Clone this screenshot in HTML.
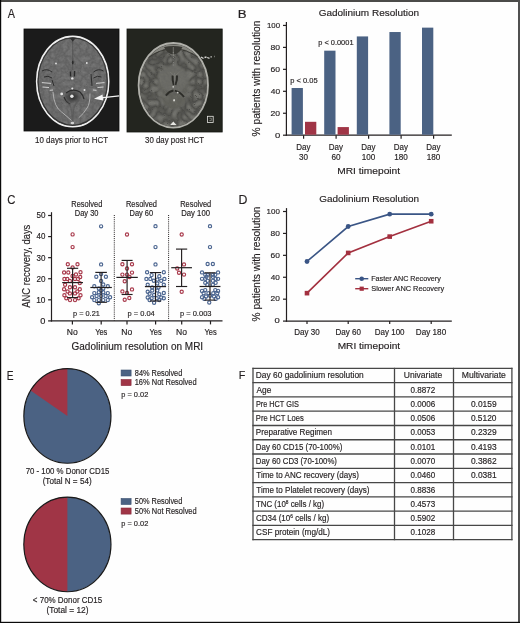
<!DOCTYPE html>
<html><head><meta charset="utf-8"><style>
html,body{margin:0;padding:0;background:#fff;}
svg{display:block;font-family:"Liberation Sans",sans-serif;will-change:transform;}
text{stroke:#231f20;stroke-width:0.16px;}
</style></head><body>
<svg width="520" height="623" viewBox="0 0 520 623">
<rect x="0" y="0" width="520" height="623" fill="#fefefe"/>
<text x="7.80" y="18.10" font-size="12.46" textLength="7.21" lengthAdjust="spacingAndGlyphs" fill="#231f20" >A</text>
<text x="237.88" y="17.70" font-size="10.58" textLength="8.82" lengthAdjust="spacingAndGlyphs" fill="#231f20" >B</text>
<text x="7.19" y="204.00" font-size="12.9" textLength="8.17" lengthAdjust="spacingAndGlyphs" fill="#231f20" >C</text>
<text x="238.59" y="203.80" font-size="12.17" textLength="8.91" lengthAdjust="spacingAndGlyphs" fill="#231f20" >D</text>
<text x="6.64" y="379.50" font-size="13.04" textLength="6.83" lengthAdjust="spacingAndGlyphs" fill="#231f20" >E</text>
<text x="238.67" y="378.80" font-size="11.59" textLength="6.57" lengthAdjust="spacingAndGlyphs" fill="#231f20" >F</text>
<defs>
<filter id="noiseL" x="0" y="0" width="100%" height="100%" color-interpolation-filters="sRGB">
  <feTurbulence type="fractalNoise" baseFrequency="0.5" numOctaves="2" seed="3" result="n"/>
  <feColorMatrix in="n" type="matrix" values="0 0 0 0 0.36  0 0 0 0 0.36  0 0 0 0 0.36  0 0 0 -1.2 0.9" result="g"/>
  <feComposite in="g" in2="SourceGraphic" operator="in"/>
</filter>
<filter id="blur06" color-interpolation-filters="sRGB"><feGaussianBlur stdDeviation="0.6"/></filter>
<filter id="blur1" color-interpolation-filters="sRGB"><feGaussianBlur stdDeviation="1.2"/></filter>
<clipPath id="clipL"><ellipse cx="72.7" cy="81.7" rx="35.2" ry="44.3"/></clipPath>
<clipPath id="clipR"><ellipse cx="173.3" cy="85.5" rx="33.6" ry="41.2"/></clipPath>
<filter id="gyri" x="0" y="0" width="100%" height="100%" color-interpolation-filters="sRGB">
 <feTurbulence type="turbulence" baseFrequency="0.14" numOctaves="1" seed="5" result="n"/>
 <feColorMatrix in="n" type="matrix" values="0 0 0 0 0.24  0 0 0 0 0.24  0 0 0 0 0.225  -1.7 0 0 0 0.72" result="g"/>
 <feComposite in="g" in2="SourceGraphic" operator="in"/>
</filter>
<filter id="gyriL" x="0" y="0" width="100%" height="100%" color-interpolation-filters="sRGB">
 <feTurbulence type="turbulence" baseFrequency="0.16" numOctaves="1" seed="9" result="n"/>
 <feColorMatrix in="n" type="matrix" values="0 0 0 0 0.28  0 0 0 0 0.28  0 0 0 0 0.28  -1.6 0 0 0 0.6" result="g"/>
 <feComposite in="g" in2="SourceGraphic" operator="in"/>
</filter>
<radialGradient id="ringg" cx="0.5" cy="0.5" r="0.5"><stop offset="0.45" stop-color="#fff" stop-opacity="0"/><stop offset="0.72" stop-color="#fff" stop-opacity="1"/><stop offset="1" stop-color="#fff" stop-opacity="1"/></radialGradient>
<mask id="ringm" maskContentUnits="userSpaceOnUse"><ellipse cx="173.3" cy="85.5" rx="33.6" ry="41.2" fill="url(#ringg)"/></mask>
<radialGradient id="darkc" cx="0.5" cy="0.5" r="0.5"><stop offset="0" stop-color="#2a2a2a"/><stop offset="1" stop-color="#2a2a2a" stop-opacity="0"/></radialGradient>
</defs>
<rect x="24" y="29" width="95" height="102" fill="#1b1b1b" stroke="#0c0c0c" stroke-width="0.8"/>
<ellipse cx="72.7" cy="81.5" rx="36.0" ry="45.1" fill="#787878" stroke="#efefef" stroke-width="1.7"/>
<g clip-path="url(#clipL)">
<rect x="36" y="36" width="74" height="92" fill="#6b6b6b" filter="url(#noiseL)" opacity="0.75"/>
<ellipse cx="72.7" cy="81.6" rx="34.9" ry="44.0" fill="none" stroke="#333333" stroke-width="1.9" filter="url(#blur06)"/>
<rect x="36" y="36" width="74" height="92" fill="#6b6b6b" filter="url(#gyriL)" opacity="0.5"/>
<g filter="url(#blur06)">
<path d="M72.7,40 L72.7,70" stroke="#505050" stroke-width="0.8"/>
<path d="M66,37.2 Q71,38 72.7,41.8 Q74.5,38 79.5,37.2 L72.7,36.2 Z" fill="#2e2e2e"/>
<ellipse cx="72.8" cy="62.5" rx="0.9" ry="2" fill="#2a2a2a"/>
<path d="M70.4,71.5 L70.6,76.5 M74.6,71 L74.4,76.5" stroke="#2a2a2a" stroke-width="1.4"/>
<ellipse cx="72.5" cy="97" rx="9" ry="7" fill="url(#darkc)"/>
<path d="M66,93 Q72.5,88 80,92 Q83,95 84,99 M64,97 Q66,102 70,104" stroke="#2c2c2c" stroke-width="1.2" fill="none"/>
<circle cx="72.3" cy="78.4" r="1.2" fill="#e6e6e6"/>
<circle cx="72.3" cy="88.5" r="1.0" fill="#e6e6e6"/>
<circle cx="71.9" cy="96.3" r="1.7" fill="#e6e6e6"/>
<circle cx="61.7" cy="93.9" r="1.4" fill="#e6e6e6"/>
<circle cx="86.8" cy="63" r="0.9" fill="#e6e6e6"/>
<circle cx="56" cy="63.5" r="0.9" fill="#e6e6e6"/>
<circle cx="84.5" cy="90" r="1.0" fill="#e6e6e6"/>
<path d="M53,92 Q54,107 61.6,112 Q67,116.5 71.6,120.6" stroke="#c2c2c2" stroke-width="0.8" fill="none"/>
<path d="M90,93.5 Q90,104 87.2,107.8 Q83.5,114 78.7,117.8" stroke="#c2c2c2" stroke-width="0.8" fill="none"/>
<path d="M66,100 Q72,104 72.5,121 M79,100 Q73,104 72.5,121" stroke="#555" stroke-width="1.4" fill="none" opacity="0.6"/>
<path d="M41.9,82.6 L50.9,83.4 M42.5,87 L49,87.5 M49.7,90.3 L53,90" stroke="#dcdcdc" stroke-width="0.9"/>
<path d="M96,83.4 L104.5,82.6 M97.5,87.5 L103.5,87 M93,90 L96.5,90.3" stroke="#dcdcdc" stroke-width="0.9"/>
<path d="M42,71 Q47,68 52,72 M44,77 Q48,75 52,78 M52,80 L54,86" stroke="#2e2e2e" stroke-width="1.0" fill="none"/>
<path d="M103.5,71 Q98.5,68 93.5,72 M101.5,77 Q97.5,75 93.5,78 M91,74 L92,86" stroke="#2e2e2e" stroke-width="1.0" fill="none"/>
<ellipse cx="72.4" cy="123" rx="1.8" ry="1.2" fill="#d0d0d0"/>
</g></g>
<path d="M119.2,95.8 L101,97.9" stroke="#f4f4f4" stroke-width="1.2"/>
<path d="M94,98.7 L102.5,94.6 L103.3,100.6 Z" fill="#f4f4f4"/>
<rect x="127" y="29" width="95.2" height="103" fill="#23251f" stroke="#121410" stroke-width="0.8"/>
<ellipse cx="173.3" cy="85.3" rx="34.7" ry="42.3" fill="#5b5b55" stroke="#b0b0aa" stroke-width="1.8"/>
<g clip-path="url(#clipR)">
<ellipse cx="173.3" cy="85.5" rx="33.6" ry="41.2" fill="#75756f"/>
<rect x="139" y="44" width="70" height="84" fill="#6a6a64" filter="url(#gyri)"/>
<ellipse cx="173.3" cy="87.5" rx="16.8" ry="22.660000000000004" fill="#71716b" opacity="0.55" filter="url(#blur1)"/>
<ellipse cx="173.3" cy="79" rx="15" ry="13" fill="#6f6f69" opacity="0.85" filter="url(#blur1)"/>
<rect x="139" y="44" width="70" height="84" fill="#65655f" filter="url(#noiseL)" opacity="0.45"/>
<path d="M147,56 Q173.3,36 200,56" stroke="#86867f" stroke-width="3.2" fill="none" filter="url(#blur06)"/>
<path d="M147,58.5 Q173.3,39 200,58.5" stroke="#33332e" stroke-width="0.8" fill="none" filter="url(#blur06)"/>
<g filter="url(#blur06)">
<ellipse cx="174" cy="101" rx="11" ry="7" fill="#5e5e58" opacity="0.4"/>
<path d="M164,47 Q167,54 173.3,54.5 Q179.5,54 182.5,47 Q173.3,45 164,47 Z" fill="#3a3a35"/>
<path d="M173.3,47 L173.3,56" stroke="#8a8a84" stroke-width="0.7"/>
<path d="M173.3,52 L173.3,66" stroke="#9a9a94" stroke-width="0.7" stroke-dasharray="1 1.5"/>
<path d="M172.6,75.5 Q172.2,80 173.8,85 M177.0,75.5 Q177.4,80 175.4,85" stroke="#2c2c28" stroke-width="2.0" fill="none"/>
<path d="M174.6,73 L174.6,85" stroke="#7e7e78" stroke-width="0.6"/>
<path d="M170,72 L174.6,76 L179.5,72" stroke="#7a7a74" stroke-width="0.8" fill="none"/>
<path d="M173.5,90.6 Q169,91.5 165.9,95.6 M174.8,90.6 Q180,91.8 184,97" stroke="#2c2c28" stroke-width="2.0" fill="none"/>
<circle cx="173.2" cy="86.8" r="0.9" fill="#c8c8c4"/>
<circle cx="177.7" cy="92.6" r="0.9" fill="#c8c8c4"/>
<ellipse cx="174.1" cy="100.3" rx="0.8" ry="1.3" fill="#e0e0dc"/>
<path d="M170.2,125 L173.3,121.5 L176.6,125 Z" fill="#e6e6e2"/>
</g></g>
<rect x="207.4" y="116.3" width="5.8" height="6.2" fill="none" stroke="#e4e4e0" stroke-width="0.8"/>
<path d="M209.3,118.2 L211.3,118.2 L211.3,120.6 L209.3,120.6" fill="none" stroke="#c8c8c4" stroke-width="0.5"/>
<path d="M201,57 L203.5,58.5 M204.5,57.5 L206.5,57 M207.2,57.5 L209.5,58.3 M210.5,56.8 L211.8,56.8 M214.5,56.5 L214.9,56.5" stroke="#d8d8d4" stroke-width="1.3"/>
<text x="35.08" y="142.70" font-size="9.0" textLength="73.02" lengthAdjust="spacingAndGlyphs" fill="#231f20" >10 days prior to HCT</text>
<text x="145.05" y="142.70" font-size="9.0" textLength="59.05" lengthAdjust="spacingAndGlyphs" fill="#231f20" >30 day post HCT</text>
<line x1="286.40" y1="22.10" x2="286.40" y2="135.80" stroke="#231f20" stroke-width="1.2" />
<line x1="285.80" y1="135.20" x2="451.80" y2="135.20" stroke="#231f20" stroke-width="1.2" />
<line x1="283.00" y1="135.20" x2="286.40" y2="135.20" stroke="#231f20" stroke-width="1.2" />
<text x="274.94" y="137.95" font-size="8.0" textLength="5.27" lengthAdjust="spacingAndGlyphs" fill="#231f20" >0</text>
<line x1="283.00" y1="113.25" x2="286.40" y2="113.25" stroke="#231f20" stroke-width="1.2" />
<text x="270.57" y="116.00" font-size="8.0" textLength="9.55" lengthAdjust="spacingAndGlyphs" fill="#231f20" >20</text>
<line x1="283.00" y1="91.30" x2="286.40" y2="91.30" stroke="#231f20" stroke-width="1.2" />
<text x="270.79" y="94.05" font-size="8.0" textLength="9.32" lengthAdjust="spacingAndGlyphs" fill="#231f20" >40</text>
<line x1="283.00" y1="69.34" x2="286.40" y2="69.34" stroke="#231f20" stroke-width="1.2" />
<text x="270.57" y="72.09" font-size="8.0" textLength="9.55" lengthAdjust="spacingAndGlyphs" fill="#231f20" >60</text>
<line x1="283.00" y1="47.39" x2="286.40" y2="47.39" stroke="#231f20" stroke-width="1.2" />
<text x="270.57" y="50.14" font-size="8.0" textLength="9.55" lengthAdjust="spacingAndGlyphs" fill="#231f20" >80</text>
<line x1="283.00" y1="25.44" x2="286.40" y2="25.44" stroke="#231f20" stroke-width="1.2" />
<text x="267.01" y="28.19" font-size="8.0" textLength="13.13" lengthAdjust="spacingAndGlyphs" fill="#231f20" >100</text>
<rect x="291.60" y="88.00" width="11.30" height="46.70" fill="#4b6283" />
<rect x="324.20" y="50.68" width="11.30" height="84.02" fill="#4b6283" />
<rect x="356.80" y="36.42" width="11.30" height="98.28" fill="#4b6283" />
<rect x="389.40" y="32.03" width="11.30" height="102.67" fill="#4b6283" />
<rect x="422.00" y="27.64" width="11.30" height="107.06" fill="#4b6283" />
<rect x="305.00" y="121.81" width="11.30" height="12.89" fill="#a03546" />
<rect x="337.60" y="127.08" width="11.30" height="7.62" fill="#a03546" />
<line x1="303.60" y1="135.20" x2="303.60" y2="138.70" stroke="#231f20" stroke-width="1.2" />
<text x="296.15" y="149.50" font-size="8.6" textLength="14.25" lengthAdjust="spacingAndGlyphs" fill="#231f20" >Day</text>
<text x="299.12" y="159.90" font-size="8.6" textLength="9.03" lengthAdjust="spacingAndGlyphs" fill="#231f20" >30</text>
<line x1="336.10" y1="135.20" x2="336.10" y2="138.70" stroke="#231f20" stroke-width="1.2" />
<text x="328.65" y="149.50" font-size="8.6" textLength="14.25" lengthAdjust="spacingAndGlyphs" fill="#231f20" >Day</text>
<text x="331.52" y="159.90" font-size="8.6" textLength="9.13" lengthAdjust="spacingAndGlyphs" fill="#231f20" >60</text>
<line x1="368.60" y1="135.20" x2="368.60" y2="138.70" stroke="#231f20" stroke-width="1.2" />
<text x="361.15" y="149.50" font-size="8.6" textLength="14.25" lengthAdjust="spacingAndGlyphs" fill="#231f20" >Day</text>
<text x="361.64" y="159.90" font-size="8.6" textLength="13.59" lengthAdjust="spacingAndGlyphs" fill="#231f20" >100</text>
<line x1="401.10" y1="135.20" x2="401.10" y2="138.70" stroke="#231f20" stroke-width="1.2" />
<text x="393.65" y="149.50" font-size="8.6" textLength="14.25" lengthAdjust="spacingAndGlyphs" fill="#231f20" >Day</text>
<text x="394.14" y="159.90" font-size="8.6" textLength="13.59" lengthAdjust="spacingAndGlyphs" fill="#231f20" >180</text>
<line x1="433.60" y1="135.20" x2="433.60" y2="138.70" stroke="#231f20" stroke-width="1.2" />
<text x="426.15" y="149.50" font-size="8.6" textLength="14.25" lengthAdjust="spacingAndGlyphs" fill="#231f20" >Day</text>
<text x="426.64" y="159.90" font-size="8.6" textLength="13.59" lengthAdjust="spacingAndGlyphs" fill="#231f20" >180</text>
<text x="318.69" y="16.00" font-size="9.8" textLength="100.42" lengthAdjust="spacingAndGlyphs" fill="#231f20" >Gadolinium Resolution</text>
<text transform="translate(260.00,136.41) rotate(-90)" x="0" y="0" font-size="10.0" textLength="115.82" lengthAdjust="spacingAndGlyphs" fill="#231f20">% patients with resolution</text>
<text x="337.15" y="173.80" font-size="9.6" textLength="62.98" lengthAdjust="spacingAndGlyphs" fill="#231f20" >MRI timepoint</text>
<text x="290.21" y="83.30" font-size="7.6" textLength="27.37" lengthAdjust="spacingAndGlyphs" fill="#231f20" >p &lt; 0.05</text>
<text x="318.21" y="45.40" font-size="7.6" textLength="35.32" lengthAdjust="spacingAndGlyphs" fill="#231f20" >p &lt; 0.0001</text>
<line x1="51.50" y1="212.20" x2="51.50" y2="321.50" stroke="#231f20" stroke-width="1.2" />
<line x1="50.90" y1="320.90" x2="222.50" y2="320.90" stroke="#231f20" stroke-width="1.2" />
<line x1="48.10" y1="320.90" x2="51.50" y2="320.90" stroke="#231f20" stroke-width="1.2" />
<text x="40.36" y="323.75" font-size="8.2" textLength="5.15" lengthAdjust="spacingAndGlyphs" fill="#231f20" >0</text>
<line x1="48.10" y1="299.82" x2="51.50" y2="299.82" stroke="#231f20" stroke-width="1.2" />
<text x="36.19" y="302.67" font-size="8.2" textLength="9.23" lengthAdjust="spacingAndGlyphs" fill="#231f20" >10</text>
<line x1="48.10" y1="278.74" x2="51.50" y2="278.74" stroke="#231f20" stroke-width="1.2" />
<text x="36.40" y="281.59" font-size="8.2" textLength="9.01" lengthAdjust="spacingAndGlyphs" fill="#231f20" >20</text>
<line x1="48.10" y1="257.66" x2="51.50" y2="257.66" stroke="#231f20" stroke-width="1.2" />
<text x="36.51" y="260.51" font-size="8.2" textLength="8.91" lengthAdjust="spacingAndGlyphs" fill="#231f20" >30</text>
<line x1="48.10" y1="236.58" x2="51.50" y2="236.58" stroke="#231f20" stroke-width="1.2" />
<text x="36.61" y="239.43" font-size="8.2" textLength="8.80" lengthAdjust="spacingAndGlyphs" fill="#231f20" >40</text>
<line x1="48.10" y1="215.50" x2="51.50" y2="215.50" stroke="#231f20" stroke-width="1.2" />
<text x="36.40" y="218.35" font-size="8.2" textLength="9.01" lengthAdjust="spacingAndGlyphs" fill="#231f20" >50</text>
<line x1="72.40" y1="320.90" x2="72.40" y2="324.40" stroke="#231f20" stroke-width="1.2" />
<line x1="101.20" y1="320.90" x2="101.20" y2="324.40" stroke="#231f20" stroke-width="1.2" />
<line x1="127.00" y1="320.90" x2="127.00" y2="324.40" stroke="#231f20" stroke-width="1.2" />
<line x1="155.60" y1="320.90" x2="155.60" y2="324.40" stroke="#231f20" stroke-width="1.2" />
<line x1="181.70" y1="320.90" x2="181.70" y2="324.40" stroke="#231f20" stroke-width="1.2" />
<line x1="210.50" y1="320.90" x2="210.50" y2="324.40" stroke="#231f20" stroke-width="1.2" />
<text x="66.75" y="334.80" font-size="8.6" textLength="10.99" lengthAdjust="spacingAndGlyphs" fill="#231f20" >No</text>
<text x="95.13" y="334.80" font-size="8.6" textLength="12.26" lengthAdjust="spacingAndGlyphs" fill="#231f20" >Yes</text>
<text x="121.35" y="334.80" font-size="8.6" textLength="10.99" lengthAdjust="spacingAndGlyphs" fill="#231f20" >No</text>
<text x="149.53" y="334.80" font-size="8.6" textLength="12.26" lengthAdjust="spacingAndGlyphs" fill="#231f20" >Yes</text>
<text x="176.05" y="334.80" font-size="8.6" textLength="10.99" lengthAdjust="spacingAndGlyphs" fill="#231f20" >No</text>
<text x="204.43" y="334.80" font-size="8.6" textLength="12.26" lengthAdjust="spacingAndGlyphs" fill="#231f20" >Yes</text>
<line x1="114.30" y1="215.00" x2="114.30" y2="320.50" stroke="#231f20" stroke-width="1.0" stroke-dasharray="1 1.1"/>
<line x1="168.60" y1="215.00" x2="168.60" y2="320.50" stroke="#231f20" stroke-width="1.0" stroke-dasharray="1 1.1"/>
<text x="71.26" y="206.50" font-size="8.2" textLength="31.07" lengthAdjust="spacingAndGlyphs" fill="#231f20" >Resolved</text>
<text x="74.86" y="216.30" font-size="8.2" textLength="23.59" lengthAdjust="spacingAndGlyphs" fill="#231f20" >Day 30</text>
<text x="125.91" y="206.50" font-size="8.2" textLength="31.07" lengthAdjust="spacingAndGlyphs" fill="#231f20" >Resolved</text>
<text x="129.51" y="216.30" font-size="8.2" textLength="23.59" lengthAdjust="spacingAndGlyphs" fill="#231f20" >Day 60</text>
<text x="180.21" y="206.50" font-size="8.2" textLength="31.07" lengthAdjust="spacingAndGlyphs" fill="#231f20" >Resolved</text>
<text x="181.29" y="216.30" font-size="8.2" textLength="28.68" lengthAdjust="spacingAndGlyphs" fill="#231f20" >Day 100</text>
<text x="73.07" y="315.70" font-size="7.6" textLength="26.75" lengthAdjust="spacingAndGlyphs" fill="#231f20" >p = 0.21</text>
<text x="127.52" y="315.80" font-size="7.8" textLength="27.28" lengthAdjust="spacingAndGlyphs" fill="#231f20" >p = 0.04</text>
<text x="179.92" y="315.80" font-size="7.8" textLength="31.62" lengthAdjust="spacingAndGlyphs" fill="#231f20" >p = 0.003</text>
<text transform="translate(29.90,307.80) rotate(-90)" x="0" y="0" font-size="10.0" textLength="83.15" lengthAdjust="spacingAndGlyphs" fill="#231f20">ANC recovery, days</text>
<text x="71.50" y="349.50" font-size="10.0" textLength="131.63" lengthAdjust="spacingAndGlyphs" fill="#231f20" >Gadolinium resolution on MRI</text>
<circle cx="72.60" cy="234.40" r="1.6" fill="none" stroke="#a8394b" stroke-width="1.15"/>
<circle cx="72.60" cy="247.10" r="1.6" fill="none" stroke="#a8394b" stroke-width="1.15"/>
<circle cx="67.80" cy="264.20" r="1.6" fill="none" stroke="#a8394b" stroke-width="1.15"/>
<circle cx="77.50" cy="264.20" r="1.6" fill="none" stroke="#a8394b" stroke-width="1.15"/>
<circle cx="72.60" cy="267.40" r="1.6" fill="none" stroke="#a8394b" stroke-width="1.15"/>
<circle cx="64.10" cy="272.50" r="1.6" fill="none" stroke="#a8394b" stroke-width="1.15"/>
<circle cx="68.30" cy="272.50" r="1.6" fill="none" stroke="#a8394b" stroke-width="1.15"/>
<circle cx="80.50" cy="272.20" r="1.6" fill="none" stroke="#a8394b" stroke-width="1.15"/>
<circle cx="76.00" cy="274.50" r="1.6" fill="none" stroke="#a8394b" stroke-width="1.15"/>
<circle cx="72.50" cy="276.00" r="1.6" fill="none" stroke="#a8394b" stroke-width="1.15"/>
<circle cx="80.20" cy="277.00" r="1.6" fill="none" stroke="#a8394b" stroke-width="1.15"/>
<circle cx="64.40" cy="279.00" r="1.6" fill="none" stroke="#a8394b" stroke-width="1.15"/>
<circle cx="67.30" cy="279.00" r="1.6" fill="none" stroke="#a8394b" stroke-width="1.15"/>
<circle cx="75.00" cy="279.00" r="1.6" fill="none" stroke="#a8394b" stroke-width="1.15"/>
<circle cx="78.00" cy="279.00" r="1.6" fill="none" stroke="#a8394b" stroke-width="1.15"/>
<circle cx="69.90" cy="280.90" r="1.6" fill="none" stroke="#a8394b" stroke-width="1.15"/>
<circle cx="79.80" cy="283.10" r="1.6" fill="none" stroke="#a8394b" stroke-width="1.15"/>
<circle cx="65.10" cy="284.70" r="1.6" fill="none" stroke="#a8394b" stroke-width="1.15"/>
<circle cx="69.90" cy="287.30" r="1.6" fill="none" stroke="#a8394b" stroke-width="1.15"/>
<circle cx="75.00" cy="287.30" r="1.6" fill="none" stroke="#a8394b" stroke-width="1.15"/>
<circle cx="64.10" cy="289.20" r="1.6" fill="none" stroke="#a8394b" stroke-width="1.15"/>
<circle cx="79.80" cy="289.20" r="1.6" fill="none" stroke="#a8394b" stroke-width="1.15"/>
<circle cx="67.60" cy="291.50" r="1.6" fill="none" stroke="#a8394b" stroke-width="1.15"/>
<circle cx="77.30" cy="291.50" r="1.6" fill="none" stroke="#a8394b" stroke-width="1.15"/>
<circle cx="69.90" cy="293.40" r="1.6" fill="none" stroke="#a8394b" stroke-width="1.15"/>
<circle cx="75.00" cy="293.40" r="1.6" fill="none" stroke="#a8394b" stroke-width="1.15"/>
<circle cx="64.40" cy="295.30" r="1.6" fill="none" stroke="#a8394b" stroke-width="1.15"/>
<circle cx="80.50" cy="295.30" r="1.6" fill="none" stroke="#a8394b" stroke-width="1.15"/>
<circle cx="66.30" cy="298.20" r="1.6" fill="none" stroke="#a8394b" stroke-width="1.15"/>
<circle cx="78.60" cy="298.20" r="1.6" fill="none" stroke="#a8394b" stroke-width="1.15"/>
<circle cx="70.00" cy="300.10" r="1.6" fill="none" stroke="#a8394b" stroke-width="1.15"/>
<circle cx="75.00" cy="300.10" r="1.6" fill="none" stroke="#a8394b" stroke-width="1.15"/>
<circle cx="101.10" cy="226.30" r="1.6" fill="none" stroke="#4b6590" stroke-width="1.15"/>
<circle cx="101.10" cy="264.40" r="1.6" fill="none" stroke="#4b6590" stroke-width="1.15"/>
<circle cx="101.10" cy="274.10" r="1.6" fill="none" stroke="#4b6590" stroke-width="1.15"/>
<circle cx="96.30" cy="276.80" r="1.6" fill="none" stroke="#4b6590" stroke-width="1.15"/>
<circle cx="105.90" cy="276.80" r="1.6" fill="none" stroke="#4b6590" stroke-width="1.15"/>
<circle cx="101.10" cy="280.90" r="1.6" fill="none" stroke="#4b6590" stroke-width="1.15"/>
<circle cx="103.30" cy="284.40" r="1.6" fill="none" stroke="#4b6590" stroke-width="1.15"/>
<circle cx="94.30" cy="286.30" r="1.6" fill="none" stroke="#4b6590" stroke-width="1.15"/>
<circle cx="107.80" cy="286.30" r="1.6" fill="none" stroke="#4b6590" stroke-width="1.15"/>
<circle cx="98.80" cy="288.50" r="1.6" fill="none" stroke="#4b6590" stroke-width="1.15"/>
<circle cx="103.30" cy="288.50" r="1.6" fill="none" stroke="#4b6590" stroke-width="1.15"/>
<circle cx="101.10" cy="290.50" r="1.6" fill="none" stroke="#4b6590" stroke-width="1.15"/>
<circle cx="94.30" cy="293.10" r="1.6" fill="none" stroke="#4b6590" stroke-width="1.15"/>
<circle cx="98.80" cy="292.20" r="1.6" fill="none" stroke="#4b6590" stroke-width="1.15"/>
<circle cx="103.30" cy="292.20" r="1.6" fill="none" stroke="#4b6590" stroke-width="1.15"/>
<circle cx="107.80" cy="293.10" r="1.6" fill="none" stroke="#4b6590" stroke-width="1.15"/>
<circle cx="92.10" cy="297.30" r="1.6" fill="none" stroke="#4b6590" stroke-width="1.15"/>
<circle cx="96.60" cy="296.00" r="1.6" fill="none" stroke="#4b6590" stroke-width="1.15"/>
<circle cx="101.10" cy="296.00" r="1.6" fill="none" stroke="#4b6590" stroke-width="1.15"/>
<circle cx="105.60" cy="296.00" r="1.6" fill="none" stroke="#4b6590" stroke-width="1.15"/>
<circle cx="110.10" cy="297.30" r="1.6" fill="none" stroke="#4b6590" stroke-width="1.15"/>
<circle cx="94.30" cy="300.10" r="1.6" fill="none" stroke="#4b6590" stroke-width="1.15"/>
<circle cx="98.80" cy="300.10" r="1.6" fill="none" stroke="#4b6590" stroke-width="1.15"/>
<circle cx="103.30" cy="300.10" r="1.6" fill="none" stroke="#4b6590" stroke-width="1.15"/>
<circle cx="107.80" cy="300.10" r="1.6" fill="none" stroke="#4b6590" stroke-width="1.15"/>
<circle cx="98.80" cy="303.30" r="1.6" fill="none" stroke="#4b6590" stroke-width="1.15"/>
<circle cx="127.00" cy="234.50" r="1.6" fill="none" stroke="#a8394b" stroke-width="1.15"/>
<circle cx="122.40" cy="264.20" r="1.6" fill="none" stroke="#a8394b" stroke-width="1.15"/>
<circle cx="132.00" cy="264.20" r="1.6" fill="none" stroke="#a8394b" stroke-width="1.15"/>
<circle cx="127.00" cy="268.50" r="1.6" fill="none" stroke="#a8394b" stroke-width="1.15"/>
<circle cx="132.00" cy="272.60" r="1.6" fill="none" stroke="#a8394b" stroke-width="1.15"/>
<circle cx="122.40" cy="274.60" r="1.6" fill="none" stroke="#a8394b" stroke-width="1.15"/>
<circle cx="127.00" cy="274.60" r="1.6" fill="none" stroke="#a8394b" stroke-width="1.15"/>
<circle cx="129.50" cy="277.00" r="1.6" fill="none" stroke="#a8394b" stroke-width="1.15"/>
<circle cx="124.70" cy="281.20" r="1.6" fill="none" stroke="#a8394b" stroke-width="1.15"/>
<circle cx="132.00" cy="289.40" r="1.6" fill="none" stroke="#a8394b" stroke-width="1.15"/>
<circle cx="122.40" cy="291.40" r="1.6" fill="none" stroke="#a8394b" stroke-width="1.15"/>
<circle cx="127.00" cy="293.00" r="1.6" fill="none" stroke="#a8394b" stroke-width="1.15"/>
<circle cx="129.30" cy="298.00" r="1.6" fill="none" stroke="#a8394b" stroke-width="1.15"/>
<circle cx="124.70" cy="299.80" r="1.6" fill="none" stroke="#a8394b" stroke-width="1.15"/>
<circle cx="155.50" cy="226.20" r="1.6" fill="none" stroke="#4b6590" stroke-width="1.15"/>
<circle cx="155.50" cy="247.10" r="1.6" fill="none" stroke="#4b6590" stroke-width="1.15"/>
<circle cx="155.50" cy="264.40" r="1.6" fill="none" stroke="#4b6590" stroke-width="1.15"/>
<circle cx="147.10" cy="272.20" r="1.6" fill="none" stroke="#4b6590" stroke-width="1.15"/>
<circle cx="163.80" cy="272.20" r="1.6" fill="none" stroke="#4b6590" stroke-width="1.15"/>
<circle cx="151.60" cy="275.10" r="1.6" fill="none" stroke="#4b6590" stroke-width="1.15"/>
<circle cx="159.30" cy="276.30" r="1.6" fill="none" stroke="#4b6590" stroke-width="1.15"/>
<circle cx="146.40" cy="278.90" r="1.6" fill="none" stroke="#4b6590" stroke-width="1.15"/>
<circle cx="150.30" cy="278.90" r="1.6" fill="none" stroke="#4b6590" stroke-width="1.15"/>
<circle cx="153.80" cy="280.80" r="1.6" fill="none" stroke="#4b6590" stroke-width="1.15"/>
<circle cx="157.30" cy="279.60" r="1.6" fill="none" stroke="#4b6590" stroke-width="1.15"/>
<circle cx="161.20" cy="280.80" r="1.6" fill="none" stroke="#4b6590" stroke-width="1.15"/>
<circle cx="164.40" cy="278.90" r="1.6" fill="none" stroke="#4b6590" stroke-width="1.15"/>
<circle cx="157.30" cy="283.40" r="1.6" fill="none" stroke="#4b6590" stroke-width="1.15"/>
<circle cx="147.70" cy="284.70" r="1.6" fill="none" stroke="#4b6590" stroke-width="1.15"/>
<circle cx="163.80" cy="284.70" r="1.6" fill="none" stroke="#4b6590" stroke-width="1.15"/>
<circle cx="152.20" cy="287.50" r="1.6" fill="none" stroke="#4b6590" stroke-width="1.15"/>
<circle cx="158.50" cy="287.50" r="1.6" fill="none" stroke="#4b6590" stroke-width="1.15"/>
<circle cx="147.70" cy="291.80" r="1.6" fill="none" stroke="#4b6590" stroke-width="1.15"/>
<circle cx="152.20" cy="290.50" r="1.6" fill="none" stroke="#4b6590" stroke-width="1.15"/>
<circle cx="157.30" cy="290.50" r="1.6" fill="none" stroke="#4b6590" stroke-width="1.15"/>
<circle cx="163.80" cy="293.00" r="1.6" fill="none" stroke="#4b6590" stroke-width="1.15"/>
<circle cx="149.60" cy="293.70" r="1.6" fill="none" stroke="#4b6590" stroke-width="1.15"/>
<circle cx="154.10" cy="295.00" r="1.6" fill="none" stroke="#4b6590" stroke-width="1.15"/>
<circle cx="159.30" cy="294.30" r="1.6" fill="none" stroke="#4b6590" stroke-width="1.15"/>
<circle cx="147.70" cy="297.50" r="1.6" fill="none" stroke="#4b6590" stroke-width="1.15"/>
<circle cx="151.60" cy="298.20" r="1.6" fill="none" stroke="#4b6590" stroke-width="1.15"/>
<circle cx="156.70" cy="298.20" r="1.6" fill="none" stroke="#4b6590" stroke-width="1.15"/>
<circle cx="161.20" cy="297.50" r="1.6" fill="none" stroke="#4b6590" stroke-width="1.15"/>
<circle cx="163.80" cy="298.20" r="1.6" fill="none" stroke="#4b6590" stroke-width="1.15"/>
<circle cx="149.60" cy="300.10" r="1.6" fill="none" stroke="#4b6590" stroke-width="1.15"/>
<circle cx="159.30" cy="300.10" r="1.6" fill="none" stroke="#4b6590" stroke-width="1.15"/>
<circle cx="154.10" cy="302.70" r="1.6" fill="none" stroke="#4b6590" stroke-width="1.15"/>
<circle cx="181.70" cy="234.50" r="1.6" fill="none" stroke="#a8394b" stroke-width="1.15"/>
<circle cx="184.00" cy="264.40" r="1.6" fill="none" stroke="#a8394b" stroke-width="1.15"/>
<circle cx="177.20" cy="268.50" r="1.6" fill="none" stroke="#a8394b" stroke-width="1.15"/>
<circle cx="179.00" cy="272.80" r="1.6" fill="none" stroke="#a8394b" stroke-width="1.15"/>
<circle cx="184.00" cy="274.60" r="1.6" fill="none" stroke="#a8394b" stroke-width="1.15"/>
<circle cx="181.70" cy="291.70" r="1.6" fill="none" stroke="#a8394b" stroke-width="1.15"/>
<circle cx="210.00" cy="226.20" r="1.6" fill="none" stroke="#4b6590" stroke-width="1.15"/>
<circle cx="210.00" cy="247.10" r="1.6" fill="none" stroke="#4b6590" stroke-width="1.15"/>
<circle cx="207.63" cy="264.01" r="1.6" fill="none" stroke="#4b6590" stroke-width="1.15"/>
<circle cx="212.85" cy="264.01" r="1.6" fill="none" stroke="#4b6590" stroke-width="1.15"/>
<circle cx="202.02" cy="272.43" r="1.6" fill="none" stroke="#4b6590" stroke-width="1.15"/>
<circle cx="218.06" cy="272.43" r="1.6" fill="none" stroke="#4b6590" stroke-width="1.15"/>
<circle cx="205.23" cy="274.84" r="1.6" fill="none" stroke="#4b6590" stroke-width="1.15"/>
<circle cx="207.63" cy="274.84" r="1.6" fill="none" stroke="#4b6590" stroke-width="1.15"/>
<circle cx="212.85" cy="274.84" r="1.6" fill="none" stroke="#4b6590" stroke-width="1.15"/>
<circle cx="215.25" cy="274.84" r="1.6" fill="none" stroke="#4b6590" stroke-width="1.15"/>
<circle cx="206.43" cy="276.85" r="1.6" fill="none" stroke="#4b6590" stroke-width="1.15"/>
<circle cx="212.85" cy="276.85" r="1.6" fill="none" stroke="#4b6590" stroke-width="1.15"/>
<circle cx="202.02" cy="278.85" r="1.6" fill="none" stroke="#4b6590" stroke-width="1.15"/>
<circle cx="218.06" cy="278.85" r="1.6" fill="none" stroke="#4b6590" stroke-width="1.15"/>
<circle cx="205.23" cy="278.85" r="1.6" fill="none" stroke="#4b6590" stroke-width="1.15"/>
<circle cx="215.65" cy="278.85" r="1.6" fill="none" stroke="#4b6590" stroke-width="1.15"/>
<circle cx="207.63" cy="280.85" r="1.6" fill="none" stroke="#4b6590" stroke-width="1.15"/>
<circle cx="212.85" cy="280.85" r="1.6" fill="none" stroke="#4b6590" stroke-width="1.15"/>
<circle cx="205.23" cy="282.86" r="1.6" fill="none" stroke="#4b6590" stroke-width="1.15"/>
<circle cx="215.65" cy="282.86" r="1.6" fill="none" stroke="#4b6590" stroke-width="1.15"/>
<circle cx="207.23" cy="284.86" r="1.6" fill="none" stroke="#4b6590" stroke-width="1.15"/>
<circle cx="212.85" cy="284.86" r="1.6" fill="none" stroke="#4b6590" stroke-width="1.15"/>
<circle cx="202.02" cy="290.88" r="1.6" fill="none" stroke="#4b6590" stroke-width="1.15"/>
<circle cx="218.06" cy="290.88" r="1.6" fill="none" stroke="#4b6590" stroke-width="1.15"/>
<circle cx="205.23" cy="290.08" r="1.6" fill="none" stroke="#4b6590" stroke-width="1.15"/>
<circle cx="215.25" cy="290.08" r="1.6" fill="none" stroke="#4b6590" stroke-width="1.15"/>
<circle cx="203.62" cy="293.28" r="1.6" fill="none" stroke="#4b6590" stroke-width="1.15"/>
<circle cx="208.43" cy="293.28" r="1.6" fill="none" stroke="#4b6590" stroke-width="1.15"/>
<circle cx="213.25" cy="293.28" r="1.6" fill="none" stroke="#4b6590" stroke-width="1.15"/>
<circle cx="217.26" cy="293.28" r="1.6" fill="none" stroke="#4b6590" stroke-width="1.15"/>
<circle cx="202.02" cy="297.29" r="1.6" fill="none" stroke="#4b6590" stroke-width="1.15"/>
<circle cx="218.06" cy="297.29" r="1.6" fill="none" stroke="#4b6590" stroke-width="1.15"/>
<circle cx="206.03" cy="296.49" r="1.6" fill="none" stroke="#4b6590" stroke-width="1.15"/>
<circle cx="214.05" cy="296.49" r="1.6" fill="none" stroke="#4b6590" stroke-width="1.15"/>
<circle cx="210.04" cy="295.69" r="1.6" fill="none" stroke="#4b6590" stroke-width="1.15"/>
<circle cx="204.43" cy="298.90" r="1.6" fill="none" stroke="#4b6590" stroke-width="1.15"/>
<circle cx="215.65" cy="298.90" r="1.6" fill="none" stroke="#4b6590" stroke-width="1.15"/>
<circle cx="209.24" cy="302.51" r="1.6" fill="none" stroke="#4b6590" stroke-width="1.15"/>
<line x1="72.60" y1="268.30" x2="72.60" y2="297.60" stroke="#231f20" stroke-width="1.15" />
<line x1="67.00" y1="268.30" x2="78.20" y2="268.30" stroke="#231f20" stroke-width="1.15" />
<line x1="67.00" y1="297.60" x2="78.20" y2="297.60" stroke="#231f20" stroke-width="1.15" />
<line x1="62.20" y1="282.60" x2="83.00" y2="282.60" stroke="#231f20" stroke-width="1.2" />
<line x1="101.10" y1="272.40" x2="101.10" y2="302.30" stroke="#231f20" stroke-width="1.15" />
<line x1="95.30" y1="272.40" x2="106.90" y2="272.40" stroke="#231f20" stroke-width="1.15" />
<line x1="95.30" y1="302.30" x2="106.90" y2="302.30" stroke="#231f20" stroke-width="1.15" />
<line x1="90.35" y1="287.50" x2="111.85" y2="287.50" stroke="#231f20" stroke-width="1.2" />
<line x1="127.10" y1="260.40" x2="127.10" y2="294.50" stroke="#231f20" stroke-width="1.15" />
<line x1="121.60" y1="260.40" x2="132.60" y2="260.40" stroke="#231f20" stroke-width="1.15" />
<line x1="121.60" y1="294.50" x2="132.60" y2="294.50" stroke="#231f20" stroke-width="1.15" />
<line x1="116.40" y1="277.40" x2="137.80" y2="277.40" stroke="#231f20" stroke-width="1.2" />
<line x1="155.50" y1="272.60" x2="155.50" y2="301.00" stroke="#231f20" stroke-width="1.15" />
<line x1="149.85" y1="272.60" x2="161.15" y2="272.60" stroke="#231f20" stroke-width="1.15" />
<line x1="149.85" y1="301.00" x2="161.15" y2="301.00" stroke="#231f20" stroke-width="1.15" />
<line x1="144.90" y1="286.60" x2="166.10" y2="286.60" stroke="#231f20" stroke-width="1.2" />
<line x1="181.60" y1="249.10" x2="181.60" y2="286.50" stroke="#231f20" stroke-width="1.15" />
<line x1="176.00" y1="249.10" x2="187.20" y2="249.10" stroke="#231f20" stroke-width="1.15" />
<line x1="176.00" y1="286.50" x2="187.20" y2="286.50" stroke="#231f20" stroke-width="1.15" />
<line x1="171.25" y1="267.70" x2="191.95" y2="267.70" stroke="#231f20" stroke-width="1.2" />
<line x1="210.00" y1="272.80" x2="210.00" y2="300.10" stroke="#231f20" stroke-width="1.15" />
<line x1="204.35" y1="272.80" x2="215.65" y2="272.80" stroke="#231f20" stroke-width="1.15" />
<line x1="204.35" y1="300.10" x2="215.65" y2="300.10" stroke="#231f20" stroke-width="1.15" />
<line x1="199.55" y1="286.50" x2="220.45" y2="286.50" stroke="#231f20" stroke-width="1.2" />
<line x1="286.50" y1="208.10" x2="286.50" y2="321.70" stroke="#231f20" stroke-width="1.2" />
<line x1="285.90" y1="321.10" x2="451.80" y2="321.10" stroke="#231f20" stroke-width="1.2" />
<line x1="283.00" y1="321.10" x2="286.50" y2="321.10" stroke="#231f20" stroke-width="1.2" />
<text x="274.64" y="323.40" font-size="8.0" textLength="5.27" lengthAdjust="spacingAndGlyphs" fill="#231f20" >0</text>
<line x1="283.00" y1="299.18" x2="286.50" y2="299.18" stroke="#231f20" stroke-width="1.2" />
<text x="270.48" y="301.48" font-size="8.0" textLength="9.33" lengthAdjust="spacingAndGlyphs" fill="#231f20" >20</text>
<line x1="283.00" y1="277.26" x2="286.50" y2="277.26" stroke="#231f20" stroke-width="1.2" />
<text x="270.70" y="279.56" font-size="8.0" textLength="9.11" lengthAdjust="spacingAndGlyphs" fill="#231f20" >40</text>
<line x1="283.00" y1="255.34" x2="286.50" y2="255.34" stroke="#231f20" stroke-width="1.2" />
<text x="270.48" y="257.64" font-size="8.0" textLength="9.33" lengthAdjust="spacingAndGlyphs" fill="#231f20" >60</text>
<line x1="283.00" y1="233.42" x2="286.50" y2="233.42" stroke="#231f20" stroke-width="1.2" />
<text x="270.48" y="235.72" font-size="8.0" textLength="9.33" lengthAdjust="spacingAndGlyphs" fill="#231f20" >80</text>
<line x1="283.00" y1="211.50" x2="286.50" y2="211.50" stroke="#231f20" stroke-width="1.2" />
<text x="266.60" y="213.80" font-size="8.0" textLength="13.24" lengthAdjust="spacingAndGlyphs" fill="#231f20" >100</text>
<line x1="307.00" y1="321.10" x2="307.00" y2="323.90" stroke="#231f20" stroke-width="1.2" />
<text x="294.23" y="335.20" font-size="8.4" textLength="25.47" lengthAdjust="spacingAndGlyphs" fill="#231f20" >Day 30</text>
<line x1="348.20" y1="321.10" x2="348.20" y2="323.90" stroke="#231f20" stroke-width="1.2" />
<text x="335.53" y="335.20" font-size="8.4" textLength="25.58" lengthAdjust="spacingAndGlyphs" fill="#231f20" >Day 60</text>
<line x1="389.70" y1="321.10" x2="389.70" y2="323.90" stroke="#231f20" stroke-width="1.2" />
<text x="374.73" y="335.20" font-size="8.4" textLength="29.84" lengthAdjust="spacingAndGlyphs" fill="#231f20" >Day 100</text>
<line x1="431.20" y1="321.10" x2="431.20" y2="323.90" stroke="#231f20" stroke-width="1.2" />
<text x="415.82" y="335.20" font-size="8.4" textLength="30.36" lengthAdjust="spacingAndGlyphs" fill="#231f20" >Day 180</text>
<polyline points="307.00,261.48 348.20,226.52 389.70,214.13 431.20,214.13" fill="none" stroke="#3a5585" stroke-width="1.6"/>
<polyline points="307.00,293.15 348.20,252.93 389.70,236.60 431.20,221.25" fill="none" stroke="#a3303f" stroke-width="1.6"/>
<circle cx="307.00" cy="261.48" r="2.4" fill="#3a5585"/>
<circle cx="348.20" cy="226.52" r="2.4" fill="#3a5585"/>
<circle cx="389.70" cy="214.13" r="2.4" fill="#3a5585"/>
<circle cx="431.20" cy="214.13" r="2.4" fill="#3a5585"/>
<rect x="304.70" y="290.85" width="4.60" height="4.60" fill="#a3303f" />
<rect x="345.90" y="250.63" width="4.60" height="4.60" fill="#a3303f" />
<rect x="387.40" y="234.30" width="4.60" height="4.60" fill="#a3303f" />
<rect x="428.90" y="218.95" width="4.60" height="4.60" fill="#a3303f" />
<line x1="355.20" y1="278.70" x2="368.30" y2="278.70" stroke="#3a5585" stroke-width="1.4" />
<circle cx="361.7" cy="278.7" r="2.3" fill="#3a5585"/>
<line x1="355.20" y1="288.70" x2="368.30" y2="288.70" stroke="#a3303f" stroke-width="1.4" />
<rect x="359.60" y="286.60" width="4.20" height="4.20" fill="#a3303f" />
<text x="371.13" y="281.20" font-size="7.6" textLength="69.66" lengthAdjust="spacingAndGlyphs" fill="#231f20" >Faster ANC Recovery</text>
<text x="371.31" y="291.20" font-size="7.6" textLength="72.97" lengthAdjust="spacingAndGlyphs" fill="#231f20" >Slower ANC Recovery</text>
<text x="319.19" y="201.90" font-size="9.8" textLength="99.91" lengthAdjust="spacingAndGlyphs" fill="#231f20" >Gadolinium Resolution</text>
<text transform="translate(260.00,321.40) rotate(-90)" x="0" y="0" font-size="10.0" textLength="114.81" lengthAdjust="spacingAndGlyphs" fill="#231f20">% patients with resolution</text>
<text x="337.66" y="349.30" font-size="9.6" textLength="62.47" lengthAdjust="spacingAndGlyphs" fill="#231f20" >MRI timepoint</text>
<ellipse cx="67.4" cy="415.9" rx="43.6" ry="47.3" fill="#4b6283"/>
<path d="M67.4,415.9 L67.4,368.59999999999997 A43.6,47.3 0 0 0 30.59,390.56 Z" fill="#a03546"/>
<ellipse cx="67.4" cy="415.9" rx="43.6" ry="47.3" fill="none" stroke="#1a1a1a" stroke-width="1.1"/>
<ellipse cx="67.4" cy="544.4" rx="43.6" ry="47.3" fill="#4b6283"/>
<path d="M67.4,544.4 L67.4,497.09999999999997 A43.6,47.3 0 0 0 67.40,591.70 Z" fill="#a03546"/>
<ellipse cx="67.4" cy="544.4" rx="43.6" ry="47.3" fill="none" stroke="#1a1a1a" stroke-width="1.1"/>
<rect x="121.10" y="370.00" width="10.00" height="6.00" fill="#4b6283" stroke="#3a4f6e" stroke-width="0.6"/>
<rect x="121.10" y="379.50" width="10.00" height="6.10" fill="#a03546" stroke="#86283a" stroke-width="0.6"/>
<text x="134.85" y="375.60" font-size="8.4" textLength="47.45" lengthAdjust="spacingAndGlyphs" fill="#231f20" >84% Resolved</text>
<text x="134.66" y="385.20" font-size="8.4" textLength="62.05" lengthAdjust="spacingAndGlyphs" fill="#231f20" >16% Not Resolved</text>
<text x="121.24" y="397.10" font-size="8.0" textLength="27.07" lengthAdjust="spacingAndGlyphs" fill="#231f20" >p = 0.02</text>
<rect x="121.10" y="498.50" width="10.00" height="6.00" fill="#4b6283" stroke="#3a4f6e" stroke-width="0.6"/>
<rect x="121.10" y="508.00" width="10.00" height="6.10" fill="#a03546" stroke="#86283a" stroke-width="0.6"/>
<text x="134.85" y="504.10" font-size="8.4" textLength="47.45" lengthAdjust="spacingAndGlyphs" fill="#231f20" >50% Resolved</text>
<text x="134.84" y="513.70" font-size="8.4" textLength="61.86" lengthAdjust="spacingAndGlyphs" fill="#231f20" >50% Not Resolved</text>
<text x="121.24" y="525.60" font-size="8.0" textLength="27.07" lengthAdjust="spacingAndGlyphs" fill="#231f20" >p = 0.02</text>
<text x="25.63" y="474.40" font-size="8.6" textLength="83.81" lengthAdjust="spacingAndGlyphs" fill="#231f20" >70 - 100 % Donor CD15</text>
<text x="42.63" y="483.90" font-size="8.6" textLength="49.00" lengthAdjust="spacingAndGlyphs" fill="#231f20" >(Total N = 54)</text>
<text x="32.83" y="603.10" font-size="8.6" textLength="69.35" lengthAdjust="spacingAndGlyphs" fill="#231f20" >&lt; 70% Donor CD15</text>
<text x="46.52" y="612.50" font-size="8.6" textLength="41.93" lengthAdjust="spacingAndGlyphs" fill="#231f20" >(Total = 12)</text>
<line x1="252.40" y1="368.40" x2="512.50" y2="368.40" stroke="#474747" stroke-width="1.3" />
<line x1="252.40" y1="382.67" x2="512.50" y2="382.67" stroke="#474747" stroke-width="1.3" />
<line x1="252.40" y1="396.94" x2="512.50" y2="396.94" stroke="#474747" stroke-width="1.3" />
<line x1="252.40" y1="411.21" x2="512.50" y2="411.21" stroke="#474747" stroke-width="1.3" />
<line x1="252.40" y1="425.48" x2="512.50" y2="425.48" stroke="#474747" stroke-width="1.3" />
<line x1="252.40" y1="439.75" x2="512.50" y2="439.75" stroke="#474747" stroke-width="1.3" />
<line x1="252.40" y1="454.02" x2="512.50" y2="454.02" stroke="#474747" stroke-width="1.3" />
<line x1="252.40" y1="468.29" x2="512.50" y2="468.29" stroke="#474747" stroke-width="1.3" />
<line x1="252.40" y1="482.56" x2="512.50" y2="482.56" stroke="#474747" stroke-width="1.3" />
<line x1="252.40" y1="496.83" x2="512.50" y2="496.83" stroke="#474747" stroke-width="1.3" />
<line x1="252.40" y1="511.10" x2="512.50" y2="511.10" stroke="#474747" stroke-width="1.3" />
<line x1="252.40" y1="525.37" x2="512.50" y2="525.37" stroke="#474747" stroke-width="1.3" />
<line x1="252.40" y1="539.64" x2="512.50" y2="539.64" stroke="#474747" stroke-width="1.3" />
<line x1="253.00" y1="367.80" x2="253.00" y2="540.24" stroke="#474747" stroke-width="1.3" />
<line x1="394.50" y1="367.80" x2="394.50" y2="540.24" stroke="#474747" stroke-width="1.3" />
<line x1="453.50" y1="367.80" x2="453.50" y2="540.24" stroke="#474747" stroke-width="1.3" />
<line x1="511.90" y1="367.80" x2="511.90" y2="540.24" stroke="#474747" stroke-width="1.3" />
<text x="255.80" y="378.40" font-size="8.4" textLength="107.93" lengthAdjust="spacingAndGlyphs" fill="#231f20" >Day 60 gadolinium resolution</text>
<text x="403.74" y="378.40" font-size="8.4" textLength="38.54" lengthAdjust="spacingAndGlyphs" fill="#231f20" >Univariate</text>
<text x="461.78" y="378.40" font-size="8.4" textLength="44.08" lengthAdjust="spacingAndGlyphs" fill="#231f20" >Multivariate</text>
<text x="256.50" y="392.67" font-size="8.4" textLength="14.84" lengthAdjust="spacingAndGlyphs" fill="#231f20" >Age</text>
<text x="410.61" y="392.67" font-size="8.4" textLength="24.66" lengthAdjust="spacingAndGlyphs" fill="#231f20" >0.8872</text>
<text x="255.89" y="406.94" font-size="8.4" textLength="42.98" lengthAdjust="spacingAndGlyphs" fill="#231f20" >Pre HCT GIS</text>
<text x="410.61" y="406.94" font-size="8.4" textLength="24.66" lengthAdjust="spacingAndGlyphs" fill="#231f20" >0.0006</text>
<text x="470.90" y="406.94" font-size="8.4" textLength="25.69" lengthAdjust="spacingAndGlyphs" fill="#231f20" >0.0159</text>
<text x="255.87" y="421.21" font-size="8.4" textLength="47.87" lengthAdjust="spacingAndGlyphs" fill="#231f20" >Pre HCT Loes</text>
<text x="410.61" y="421.21" font-size="8.4" textLength="24.66" lengthAdjust="spacingAndGlyphs" fill="#231f20" >0.0506</text>
<text x="470.90" y="421.21" font-size="8.4" textLength="25.59" lengthAdjust="spacingAndGlyphs" fill="#231f20" >0.5120</text>
<text x="255.82" y="435.48" font-size="8.4" textLength="76.16" lengthAdjust="spacingAndGlyphs" fill="#231f20" >Preparative Regimen</text>
<text x="410.61" y="435.48" font-size="8.4" textLength="24.66" lengthAdjust="spacingAndGlyphs" fill="#231f20" >0.0053</text>
<text x="470.90" y="435.48" font-size="8.4" textLength="25.69" lengthAdjust="spacingAndGlyphs" fill="#231f20" >0.2329</text>
<text x="255.84" y="449.75" font-size="8.4" textLength="86.60" lengthAdjust="spacingAndGlyphs" fill="#231f20" >Day 60 CD15 (70-100%)</text>
<text x="410.61" y="449.75" font-size="8.4" textLength="24.66" lengthAdjust="spacingAndGlyphs" fill="#231f20" >0.0101</text>
<text x="470.90" y="449.75" font-size="8.4" textLength="25.69" lengthAdjust="spacingAndGlyphs" fill="#231f20" >0.4193</text>
<text x="255.85" y="464.02" font-size="8.4" textLength="81.12" lengthAdjust="spacingAndGlyphs" fill="#231f20" >Day 60 CD3 (70-100%)</text>
<text x="410.61" y="464.02" font-size="8.4" textLength="24.57" lengthAdjust="spacingAndGlyphs" fill="#231f20" >0.0070</text>
<text x="470.90" y="464.02" font-size="8.4" textLength="25.69" lengthAdjust="spacingAndGlyphs" fill="#231f20" >0.3862</text>
<text x="256.31" y="478.29" font-size="8.4" textLength="102.68" lengthAdjust="spacingAndGlyphs" fill="#231f20" >Time to ANC recovery (days)</text>
<text x="410.61" y="478.29" font-size="8.4" textLength="24.57" lengthAdjust="spacingAndGlyphs" fill="#231f20" >0.0460</text>
<text x="470.90" y="478.29" font-size="8.4" textLength="25.69" lengthAdjust="spacingAndGlyphs" fill="#231f20" >0.0381</text>
<text x="256.31" y="492.56" font-size="8.4" textLength="113.23" lengthAdjust="spacingAndGlyphs" fill="#231f20" >Time to Platelet recovery (days)</text>
<text x="410.61" y="492.56" font-size="8.4" textLength="24.66" lengthAdjust="spacingAndGlyphs" fill="#231f20" >0.8836</text>
<text x="255.91" y="506.83" font-size="8.4" textLength="68.18" lengthAdjust="spacingAndGlyphs" fill="#231f20">TNC (10<tspan font-size="5" dy="-3.2">8</tspan><tspan dy="3.2"> cells / kg)</tspan></text>
<text x="410.61" y="506.83" font-size="8.4" textLength="24.66" lengthAdjust="spacingAndGlyphs" fill="#231f20" >0.4573</text>
<text x="255.91" y="521.10" font-size="8.4" textLength="73.18" lengthAdjust="spacingAndGlyphs" fill="#231f20">CD34 (10<tspan font-size="5" dy="-3.2">6</tspan><tspan dy="3.2"> cells / kg)</tspan></text>
<text x="410.61" y="521.10" font-size="8.4" textLength="24.66" lengthAdjust="spacingAndGlyphs" fill="#231f20" >0.5902</text>
<text x="256.11" y="535.37" font-size="8.4" textLength="73.87" lengthAdjust="spacingAndGlyphs" fill="#231f20" >CSF protein (mg/dL)</text>
<text x="410.61" y="535.37" font-size="8.4" textLength="24.66" lengthAdjust="spacingAndGlyphs" fill="#231f20" >0.1028</text>
<rect x="0" y="0" width="520" height="2" fill="#4b4b49"/>
<rect x="518" y="0" width="2" height="623" fill="#505050"/>
<rect x="0" y="0" width="1.2" height="623" fill="#0a0a0a"/>
<rect x="0" y="621.8" width="520" height="1.2" fill="#0a0a0a"/>
</svg>
</body></html>
